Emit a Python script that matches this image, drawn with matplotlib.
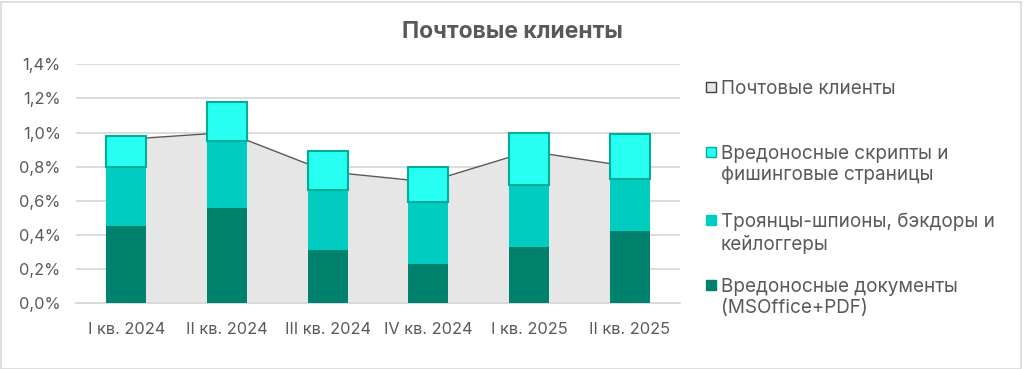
import numpy as np
import matplotlib.pyplot as plt
from matplotlib.patches import Rectangle

plt.rcParams['font.family'] = ['Inter', 'DejaVu Sans']

quarters = ["I кв. 2024", "II кв. 2024", "III кв. 2024", "IV кв. 2024", "I кв. 2025", "II кв. 2025"]
docs = [0.45, 0.56, 0.31, 0.23, 0.33, 0.42]
trojans = [0.35, 0.39, 0.35, 0.36, 0.36, 0.31]
scripts = [0.18, 0.23, 0.23, 0.21, 0.31, 0.26]
mail = [0.96, 1.00, 0.77, 0.71, 0.89, 0.80]

labels = ["Почтовые клиенты",
          "Вредоносные скрипты и\nфишинговые страницы",
          "Троянцы-шпионы, бэкдоры и\nкейлоггеры",
          "Вредоносные документы\n(MSOffice+PDF)"]

c_dark = "#00816D"
c_mid = "#00CCBF"
c_top = "#26FFF2"
c_edge = "#00AE96"
c_area = "#E6E6E6"
c_text = "#595959"

W, H = 1024, 369
fig = plt.figure(figsize=(W / 100, H / 100), dpi=100)
ax = fig.add_axes([76 / W, 1 - 303 / H, (680 - 76) / W, (303 - 64.3) / H])

x = np.arange(len(quarters))
docs = np.array(docs)
trojans = np.array(trojans)
scripts = np.array(scripts)

ax.fill_between(x, mail, color=c_area, zorder=1, lw=0)
ax.plot(x, mail, color=c_text, lw=1, zorder=2)

w = 0.4
ax.bar(x, docs, w, color=c_dark, zorder=3)
ax.bar(x, trojans, w, bottom=docs, color=c_mid, zorder=3)
ax.bar(x, scripts, w, bottom=docs + trojans, color=c_top, edgecolor=c_edge, lw=1.5, zorder=3)

ax.set_xlim(-0.5, len(quarters) - 0.5)
ax.set_ylim(0, 1.4)
ax.set_yticks(np.arange(0, 1.41, 0.2))
ax.set_yticklabels([f"{v:.1f}%".replace(".", ",") for v in np.arange(0, 1.41, 0.2)])
ax.set_xticks(x)
ax.set_xticklabels(quarters)
ax.grid(axis='y', color="#D9D9D9", lw=1.3, zorder=0)
ax.set_axisbelow(True)
for s in ['top', 'right', 'left']:
    ax.spines[s].set_visible(False)
ax.spines['bottom'].set_color("#D9D9D9")
ax.spines['bottom'].set_linewidth(1.3)
ax.tick_params(length=0, labelsize=11.8, colors=c_text)
ax.tick_params(axis='y', pad=11)
ax.tick_params(axis='x', pad=14)

fig.text(512 / W, 1 - 32 / H, "Почтовые клиенты", ha='center', va='center',
         fontsize=16.5, fontweight='bold', color=c_text)

# legend
leg_y = [87, 152, 220, 285]
leg_fc = [c_area, c_top, c_mid, c_dark]
leg_ec = ["#404040", c_edge, c_mid, c_dark]
for yy, lab, fc, ec in zip(leg_y, labels, leg_fc, leg_ec):
    fig.patches.append(Rectangle((706 / W, 1 - (yy + 5) / H), 10 / W, 10 / H,
                                 transform=fig.transFigure, facecolor=fc, edgecolor=ec, lw=1))
    fig.text(721 / W, 1 - (yy - 7) / H, lab, ha='left', va='top', fontsize=13.6,
             color=c_text, linespacing=1.22)

fig.patches.append(Rectangle((0.5 / W, 0.5 / H), 1 - 4 / W, 1 - 2 / H, transform=fig.transFigure,
                             facecolor='none', edgecolor="#D9D9D9", lw=1.2))

fig.savefig("out.png", dpi=100)
